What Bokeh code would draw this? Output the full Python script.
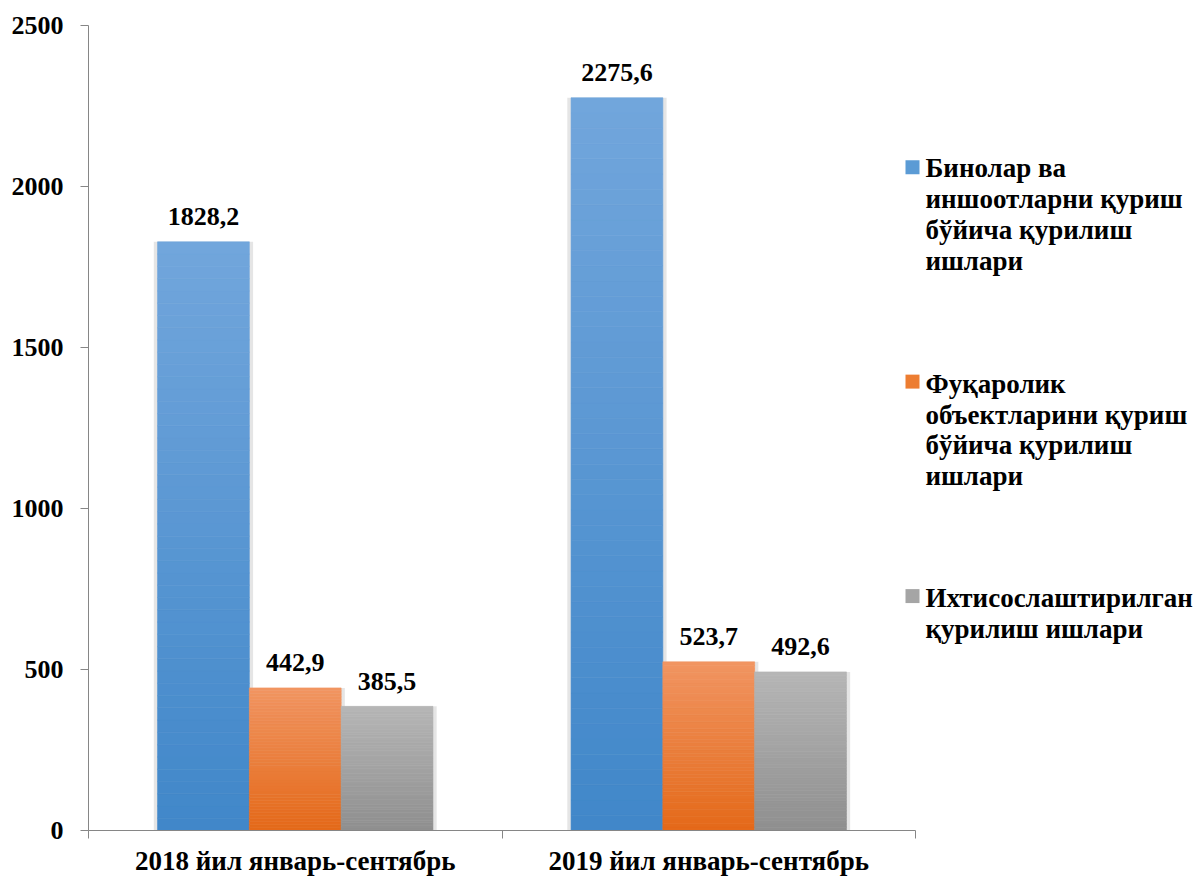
from bokeh.plotting import figure
from bokeh.models import Range1d, FixedTicker, ColumnDataSource
from bokeh.embed import file_html
from bokeh.resources import INLINE
from bokeh.core.properties import value

# ---------------- data ----------------
categories = ["2018 йил январь-сентябрь", "2019 йил январь-сентябрь"]
series_names = [
    "Бинолар ва иншоотларни қуриш бўйича қурилиш ишлари",
    "Фуқаролик объектларини қуриш бўйича қурилиш ишлари",
    "Ихтисослаштирилган қурилиш ишлари",
]
legend_lines = [
    ["Бинолар ва", "иншоотларни қуриш", "бўйича қурилиш", "ишлари"],
    ["Фуқаролик", "объектларини қуриш", "бўйича қурилиш", "ишлари"],
    ["Ихтисослаштирилган", "қурилиш ишлари"],
]
binolar = [1828.2, 2275.6]
fuqarolik = [442.9, 523.7]
ixtisos = [385.5, 492.6]
y_ticks = [0, 500, 1000, 1500, 2000, 2500]

# ---------------- style ----------------
FONT = "Liberation Serif"
FS = "26px"
FS_BIG = "27px"
AXIS_GREY = "#868686"
grad = [  # (top colour, bottom colour)
    ((114, 166, 220), (64, 135, 201)),
    ((241, 149, 98), (228, 105, 25)),
    ((182, 182, 182), (143, 143, 143)),
]
legend_cols = ["#5b9bd5", "#ed7d31", "#a5a5a5"]

W, H = 1193, 878
FRAME_LEFT, FRAME_TOP, FRAME_BOTTOM = 88, 25, 832
AXIS_PX = 827  # pixel length of the 0..2 category axis
x_end = 2 * (W - FRAME_LEFT) / AXIS_PX

p = figure(width=W, height=H, x_range=Range1d(0, x_end), y_range=Range1d(0, 2500),
           min_border_left=FRAME_LEFT, min_border_right=0, min_border_top=FRAME_TOP,
           min_border_bottom=H - FRAME_BOTTOM,
           output_backend="svg", toolbar_location=None)
p.outline_line_color = None
p.xgrid.visible = False
p.ygrid.visible = False
p.background_fill_color = "white"
p.border_fill_color = "white"

# y axis
ya = p.yaxis[0]
ya.ticker = FixedTicker(ticks=y_ticks)
ya.axis_line_color = AXIS_GREY
ya.major_tick_line_color = AXIS_GREY
ya.major_tick_out = 8
ya.major_tick_in = 0
ya.minor_tick_line_color = None
ya.major_label_standoff = 17
ya.major_label_text_font = FONT
ya.major_label_text_font_style = "bold"
ya.major_label_text_font_size = FS
ya.major_label_text_color = "black"

# x axis
xa = p.xaxis[0]
xa.ticker = FixedTicker(ticks=[0.5, 1.5], minor_ticks=[0, 1, 2])
xa.bounds = (0, 2)
xa.axis_line_color = AXIS_GREY
xa.major_tick_line_color = None
xa.major_tick_out = 0
xa.major_tick_in = 0
xa.minor_tick_line_color = AXIS_GREY
xa.minor_tick_out = 8
xa.minor_tick_in = 0
xa.major_label_overrides = {0.5: categories[0], 1.5: categories[1]}
xa.major_label_standoff = 7
xa.major_label_text_font = FONT
xa.major_label_text_font_style = "bold"
xa.major_label_text_font_size = FS_BIG
xa.major_label_text_color = "black"


def lerp(c1, c2, t):
    return "#%02x%02x%02x" % tuple(int(round(a + (b - a) * t)) for a, b in zip(c1, c2))


series = [binolar, fuqarolik, ixtisos]
centers = [0.5, 1.5]
bw = 0.222
offsets = [-bw, 0.0, bw]
N = 48

# soft shadows
sh = dict(x=[], top=[])
for j, vals in enumerate(series):
    for i, v in enumerate(vals):
        sh["x"].append(centers[i] + offsets[j])
        sh["top"].append(v)
p.vbar(x="x", top="top", bottom=0, width=bw + 0.018, source=ColumnDataSource(sh),
       fill_color="#d4d4d4", fill_alpha=0.6, line_color=None)

# gradient bars
for j, vals in enumerate(series):
    d = dict(x=[], b=[], t=[], c=[])
    top_c, bot_c = grad[j]
    for i, v in enumerate(vals):
        for k in range(N):
            d["x"].append(centers[i] + offsets[j])
            d["b"].append(v * k / N)
            d["t"].append(v * (k + 1) / N)
            d["c"].append(lerp(bot_c, top_c, (k + 0.5) / N))
    p.vbar(x="x", bottom="b", top="t", width=bw, source=ColumnDataSource(d),
           fill_color="c", line_color="c", line_width=0.6)

# value labels
lx, ly, lt = [], [], []
for j, vals in enumerate(series):
    for i, v in enumerate(vals):
        lx.append(centers[i] + offsets[j])
        ly.append(v)
        lt.append(f"{v:.1f}".replace(".", ","))
p.text(x=lx, y=ly, text=lt, text_align="center", text_baseline="alphabetic",
       y_offset=-25, text_font=value(FONT), text_font_style="bold",
       text_font_size=FS, text_color="black")

# legend, drawn in pixel coordinates
p.extra_x_ranges = {"px": Range1d(FRAME_LEFT, W)}
p.extra_y_ranges = {"py": Range1d(FRAME_BOTTOM, FRAME_TOP)}
sq_y = [167, 382, 597]
first_base = [168, 384, 599]
LINE = 31
for j in range(3):
    p.rect(x=[912], y=[sq_y[j]], width=14, height=14, fill_color=legend_cols[j],
           line_color=None, x_range_name="px", y_range_name="py")
    lines = legend_lines[j]
    p.text(x=[925] * len(lines), y=[first_base[j] + LINE * k for k in range(len(lines))],
           text=lines, text_align="left", text_baseline="alphabetic",
           text_font=value(FONT), text_font_style="bold", text_font_size=FS_BIG,
           text_color="black", x_range_name="px", y_range_name="py")

open("out.html", "w").write(file_html(p, INLINE))
